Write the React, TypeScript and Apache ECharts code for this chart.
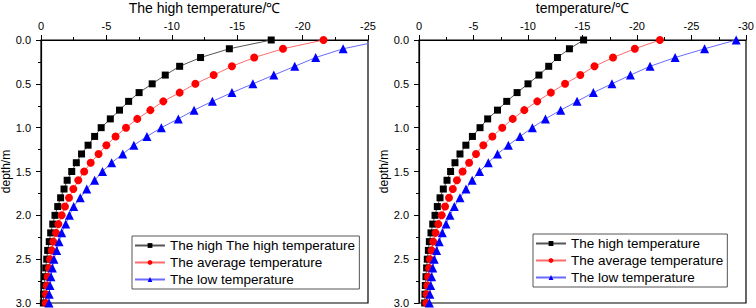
import React, { useEffect, useRef } from "react";
import * as echarts from "echarts";

const depths = [0.0, 0.1, 0.2, 0.3, 0.4, 0.5, 0.6, 0.7, 0.8, 0.9, 1.0, 1.1, 1.2, 1.3, 1.4, 1.5, 1.6, 1.7, 1.8, 1.9, 2.0, 2.1, 2.2, 2.3, 2.4, 2.5, 2.6, 2.7, 2.8, 2.9, 3.0];

const leftHigh = [-17.6, -14.4, -12.2, -10.6, -9.5, -8.5, -7.5, -6.7, -6.0, -5.3, -4.6, -4.1, -3.6, -3.1, -2.7, -2.35, -2.0, -1.76, -1.5, -1.28, -1.07, -0.9, -0.74, -0.63, -0.51, -0.44, -0.36, -0.31, -0.25, -0.2, -0.18];
const leftAvg = [-21.6, -18.5, -16.3, -14.6, -13.2, -11.8, -10.6, -9.35, -8.36, -7.36, -6.5, -5.7, -5.0, -4.4, -3.8, -3.3, -2.85, -2.47, -2.14, -1.83, -1.58, -1.33, -1.15, -0.94, -0.82, -0.69, -0.61, -0.51, -0.44, -0.38, -0.36];
const leftLow = [-26.3, -23.1, -21.0, -19.4, -17.8, -16.2, -14.6, -13.1, -11.7, -10.5, -9.2, -8.1, -7.1, -6.25, -5.4, -4.7, -4.1, -3.5, -3.0, -2.5, -2.17, -1.89, -1.58, -1.38, -1.2, -0.99, -0.87, -0.76, -0.69, -0.63, -0.61];

const rightHigh = [-15.1, -13.8, -12.7, -11.9, -11.0, -10.0, -9.0, -8.05, -7.2, -6.3, -5.6, -4.9, -4.3, -3.76, -3.3, -2.9, -2.57, -2.23, -1.93, -1.68, -1.47, -1.26, -1.1, -0.95, -0.86, -0.76, -0.7, -0.64, -0.58, -0.55, -0.52];
const rightAvg = [-22.1, -19.8, -17.8, -16.1, -14.8, -13.4, -12.1, -10.85, -9.66, -8.6, -7.64, -6.73, -5.9, -5.23, -4.6, -4.0, -3.48, -3.1, -2.75, -2.39, -2.08, -1.77, -1.53, -1.31, -1.16, -1.0, -0.92, -0.83, -0.76, -0.7, -0.67];
const rightLow = [-29.1, -26.2, -23.5, -21.2, -19.4, -17.7, -16.0, -14.5, -13.0, -11.6, -10.4, -9.27, -8.2, -7.2, -6.36, -5.55, -4.88, -4.31, -3.76, -3.24, -2.84, -2.48, -2.14, -1.86, -1.62, -1.4, -1.26, -1.16, -1.07, -1.0, -0.95];

const leftTitle = "The high temperature/℃";
const rightTitle = "temperature/℃";
const yName = "depth/m";
const leftNames = ["The high The high temperature", "The average temperature", "The low temperature"];
const rightNames = ["The high temperature", "The average temperature", "The low temperature"];
const leftXRange = [-25, 0];
const rightXRange = [-30, 0];

const FONT = "Arial, 'Liberation Sans', sans-serif";

const styles = [
  { symbol: "rect", size: 7, color: "#000000", line: "#555555" },
  { symbol: "circle", size: 8, color: "#ff0000", line: "#ff6a6a" },
  { symbol: "triangle", size: 9, color: "#0000ff", line: "#6a6aff" },
];

function pairs(vals: number[]) {
  return vals.map((v, i) => [v, depths[i]]);
}

export default function App() {
  const ref = useRef<HTMLDivElement>(null);
  useEffect(() => {
    document.body.style.margin = "0";
    const chart = echarts.init(ref.current!, undefined, { renderer: "svg" });
    const xAxisBase = (idx: number, range: number[], name: string) => ({
      type: "value",
      gridIndex: idx,
      position: "top",
      inverse: true,
      min: range[0],
      max: range[1],
      interval: 5,
      name,
      nameLocation: "middle",
      nameGap: 25,
      nameTextStyle: { fontSize: 14, color: "#000", fontFamily: FONT },
      axisLine: { show: true, onZero: false, lineStyle: { color: "#000", width: 1.2 } },
      axisTick: { show: true, inside: false, length: 5, lineStyle: { color: "#000" } },
      minorTick: { show: true, splitNumber: 2, length: 3, lineStyle: { color: "#000" } },
      axisLabel: { fontSize: 11, color: "#000", margin: 9, fontFamily: FONT },
      splitLine: { show: false },
    });
    const yAxisBase = (idx: number) => ({
      type: "value",
      gridIndex: idx,
      inverse: true,
      min: 0,
      max: 3,
      interval: 0.5,
      name: yName,
      nameLocation: "middle",
      nameGap: 27,
      nameTextStyle: { fontSize: 12, color: "#000", fontFamily: FONT },
      axisLine: { show: true, onZero: false, lineStyle: { color: "#000", width: 1.2 } },
      axisTick: { show: true, inside: false, length: 5, lineStyle: { color: "#000" } },
      minorTick: { show: true, splitNumber: 2, length: 3, lineStyle: { color: "#000" } },
      axisLabel: { fontSize: 11, color: "#000", margin: 10, fontFamily: FONT, formatter: (v: number) => v.toFixed(1) },
      splitLine: { show: false },
    });
    const mkSeries = (idx: number, names: string[], sets: number[][]) =>
      sets.map((vals, k) => ({
        type: "line",
        name: names[k],
        xAxisIndex: idx,
        yAxisIndex: idx,
        data: pairs(vals),
        symbol: styles[k].symbol,
        symbolSize: styles[k].size,
        showAllSymbol: true,
        clip: true,
        itemStyle: { color: styles[k].color },
        lineStyle: { color: styles[k].line, width: 1 },
        emphasis: { disabled: true },
      }));
    const legendBase = (names: string[], left: number, top: number) => ({
      data: names,
      orient: "vertical",
      left,
      top,
      itemWidth: 30,
      itemHeight: 6,
      itemGap: 2,
      padding: [2, 4, 2, 2],
      borderColor: "#555",
      borderWidth: 1,
      backgroundColor: "#fff",
      textStyle: { fontSize: 13.5, color: "#000", fontFamily: FONT, lineHeight: 15 },
    });
    chart.setOption({
      animation: false,
      backgroundColor: "#fff",
      grid: [
        { left: 41, top: 40, width: 327, height: 263, show: true, borderColor: "#000", borderWidth: 1.2, outerBoundsMode: "none", containLabel: false },
        { left: 419, top: 40, width: 327, height: 263, show: true, borderColor: "#000", borderWidth: 1.2, outerBoundsMode: "none", containLabel: false },
      ],
      xAxis: [xAxisBase(0, leftXRange, leftTitle), xAxisBase(1, rightXRange, rightTitle)],
      yAxis: [yAxisBase(0), yAxisBase(1)],
      legend: [legendBase(leftNames, 132, 236), legendBase(rightNames, 533, 234)],
      series: [
        ...mkSeries(0, leftNames, [leftHigh, leftAvg, leftLow]),
        ...mkSeries(1, rightNames, [rightHigh, rightAvg, rightLow]),
      ],
    });
    return () => chart.dispose();
  }, []);
  return <div ref={ref} style={{ width: 756, height: 308 }} />;
}
